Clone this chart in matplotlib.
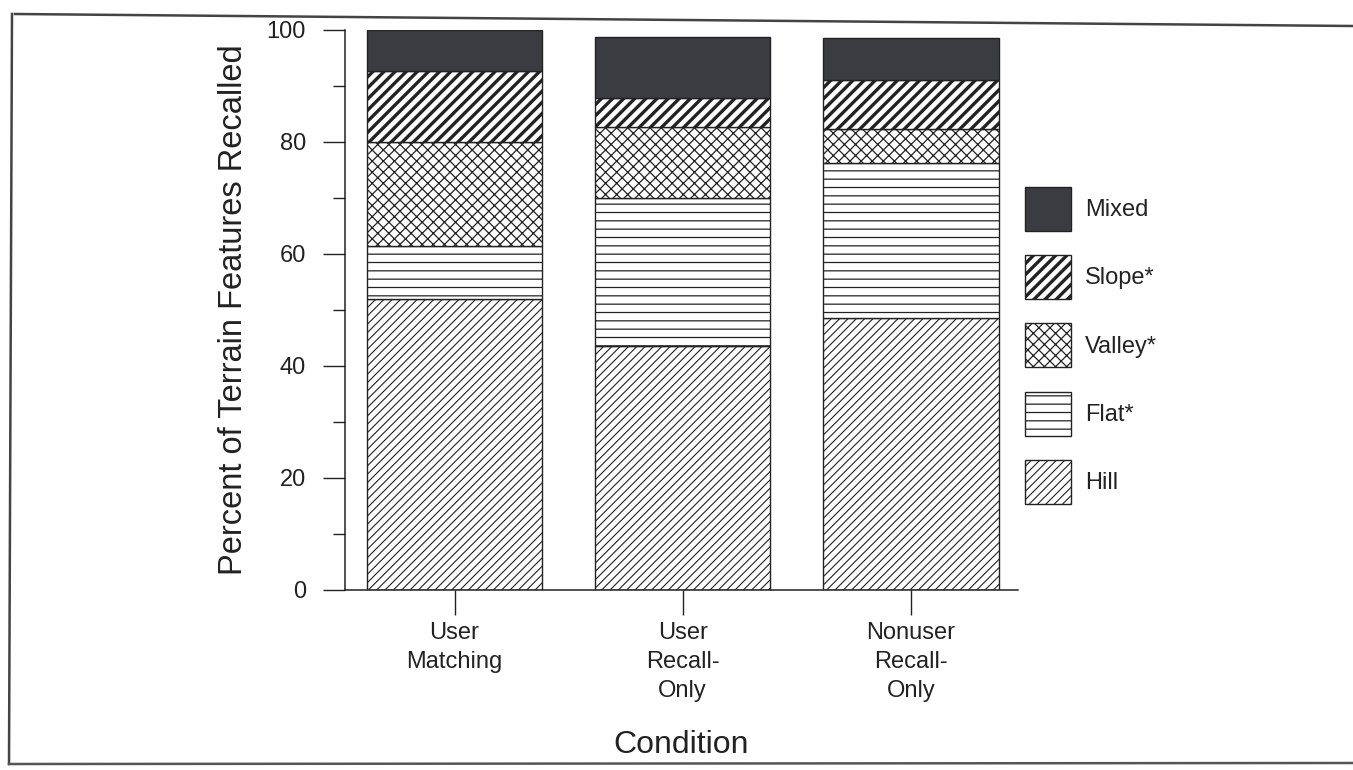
import numpy as np
import matplotlib
matplotlib.use("Agg")
import matplotlib.pyplot as plt
from matplotlib.lines import Line2D

plt.rcParams['font.family'] = ['Liberation Sans', 'DejaVu Sans']

conditions = ["User\nMatching", "User\nRecall-\nOnly", "Nonuser\nRecall-\nOnly"]
hill = [52.0, 43.5, 48.6]
flat = [9.5, 26.5, 27.7]
valley = [18.5, 12.6, 6.1]
slope = [12.7, 5.2, 8.6]
mixed = [7.3, 10.9, 7.6]

series = [("Hill", hill), ("Flat*", flat), ("Valley*", valley),
          ("Slope*", slope), ("Mixed", mixed)]
# hatch, hatch linewidth, facecolor
styles = {
    "Hill": ("////", 0.8, "white"),
    "Flat*": ("--", 0.9, "white"),
    "Valley*": ("xxx", 0.9, "white"),
    "Slope*": ("///", 2.4, "white"),
    "Mixed": ("", 1.0, "#3b3c42"),
}

ink = "#222222"

fig = plt.figure(figsize=(13.53, 7.70), dpi=100)
ax = fig.add_axes([345 / 1353, 1 - 590 / 770, (1018 - 345) / 1353, (590 - 30) / 770])

x = np.arange(len(conditions))
bottom = np.zeros(len(conditions))
handles = []
for name, vals in series:
    hatch, hlw, fc = styles[name]
    plt.rcParams['hatch.linewidth'] = hlw
    bars = ax.bar(x, vals, 0.77, bottom=bottom, color=fc, edgecolor=ink,
                  linewidth=1.0, hatch=hatch, label=name)
    for b in bars:
        if hasattr(b, "set_hatch_linewidth"):
            b.set_hatch_linewidth(hlw)
    handles.append(bars)
    bottom += np.array(vals)

ax.set_xlim(-0.48, 2.47)
ax.set_ylim(0, 100)
ax.set_yticks(np.arange(0, 101, 20))
ax.set_yticks(np.arange(10, 100, 20), minor=True)
ax.set_xticks(x)
ax.set_xticklabels(conditions, fontsize=17, color=ink, linespacing=1.42)
ax.tick_params(axis='y', which='major', length=16, width=1.0, pad=12,
               labelsize=17, colors=ink)
ax.tick_params(axis='y', which='minor', length=9, width=1.0, colors=ink)
ax.tick_params(axis='x', length=18, width=1.0, pad=5, colors=ink)

for s in ["top", "right"]:
    ax.spines[s].set_visible(False)
for s in ["left", "bottom"]:
    ax.spines[s].set_color(ink)
    ax.spines[s].set_linewidth(1.1)

ax.set_ylabel("Percent of Terrain Features Recalled", fontsize=23.5, color=ink, labelpad=13)
ax.set_xlabel("Condition", fontsize=23, color=ink, labelpad=20)

leg = fig.legend(handles[::-1], [n for n, _ in series][::-1],
                 loc='upper left', bbox_to_anchor=(1013 / 1353, 1 - 175 / 770),
                 frameon=False, fontsize=17, handlelength=1.95, handleheight=2.5,
                 labelspacing=1.02, handletextpad=0.6, borderpad=0)
for t in leg.get_texts():
    t.set_color(ink)
for h, (name, _) in zip(leg.legend_handles, series[::-1]):
    if hasattr(h, "set_hatch_linewidth"):
        h.set_hatch_linewidth(styles[name][1])

# scanned page border
W, H = 1353, 770
fig.add_artist(Line2D([15 / W, 1.0], [1 - 14 / H, 1 - 26 / H], color="#444444", lw=1.8))
fig.add_artist(Line2D([12 / W, 9 / W], [1 - 14 / H, 1 - 764 / H], color="#444444", lw=1.8))
fig.add_artist(Line2D([9 / W, 1.0], [1 - 764 / H, 1 - 763 / H], color="#555555", lw=1.8))

fig.savefig("out.png", dpi=100, facecolor="white")
